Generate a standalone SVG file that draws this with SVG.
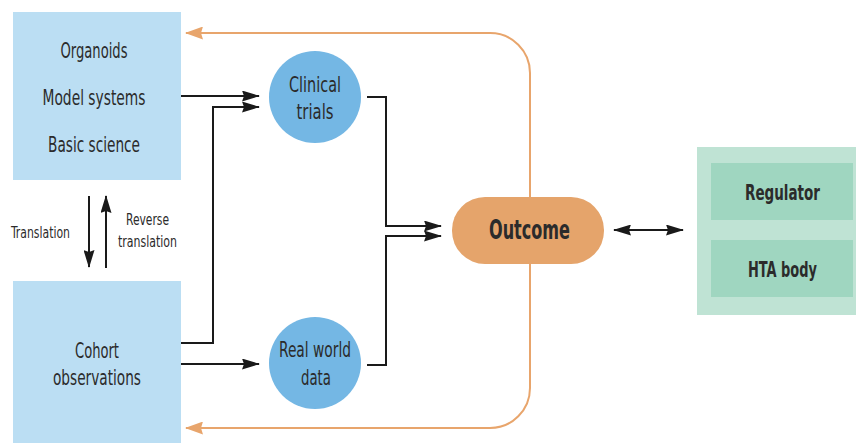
<svg xmlns="http://www.w3.org/2000/svg" width="856" height="443" viewBox="0 0 856 443">
<style>
text{font-family:"DejaVu Sans Condensed","DejaVu Sans",sans-serif;font-stretch:condensed;fill:#2b2b2b;text-anchor:middle;dominant-baseline:central}
.lbl{font-size:21.5px}
.sm{font-size:16px}
.b{font-weight:bold}
.blk{fill:none;stroke:#1a1a1a;stroke-width:2}
.org{fill:none;stroke:#e8a56c;stroke-width:2}
</style>
<defs>
<marker id="ab" viewBox="0 0 18 11" refX="17" refY="5.5" markerWidth="18" markerHeight="11" markerUnits="userSpaceOnUse" orient="auto-start-reverse"><path d="M0,0 L18,5.5 L0,11 L2,5.5 Z" fill="#1a1a1a"/></marker>
<marker id="ao" viewBox="0 0 18 13" refX="17" refY="6.5" markerWidth="18" markerHeight="13" markerUnits="userSpaceOnUse" orient="auto"><path d="M0,0 L18,6.5 L0,13 L2,6.5 Z" fill="#e8a56c"/></marker>
</defs>
<g id="basic">
<rect x="13" y="12" width="168" height="168" fill="#bbdef3"/>
<text class="lbl" x="94" y="50" textLength="67" lengthAdjust="spacingAndGlyphs">Organoids</text>
<text class="lbl" x="94" y="97" textLength="103" lengthAdjust="spacingAndGlyphs">Model systems</text>
<text class="lbl" x="94" y="144" textLength="92" lengthAdjust="spacingAndGlyphs">Basic science</text>
</g>
<g id="cohort">
<rect x="13" y="281" width="168" height="162" fill="#bbdef3"/>
<text class="lbl" x="97" y="350" textLength="44" lengthAdjust="spacingAndGlyphs">Cohort</text>
<text class="lbl" x="97" y="377" textLength="88" lengthAdjust="spacingAndGlyphs">observations</text>
</g>
<g id="clinical">
<circle cx="315" cy="97" r="46" fill="#74b7e4"/>
<text class="lbl" x="315" y="84" textLength="52" lengthAdjust="spacingAndGlyphs">Clinical</text>
<text class="lbl" x="315" y="111" textLength="37" lengthAdjust="spacingAndGlyphs">trials</text>
</g>
<g id="rwd">
<circle cx="315" cy="363" r="46" fill="#74b7e4"/>
<text class="lbl" x="315" y="349" textLength="72" lengthAdjust="spacingAndGlyphs">Real world</text>
<text class="lbl" x="316" y="377" textLength="30" lengthAdjust="spacingAndGlyphs">data</text>
</g>
<g id="outcome">
<rect x="452" y="197" width="152" height="67" rx="33" fill="#e5a46b"/>
<text class="b" style="font-size:26px" x="529.5" y="230" textLength="81" lengthAdjust="spacingAndGlyphs">Outcome</text>
</g>
<g id="decision">
<rect x="697" y="147" width="159" height="168" fill="#bfe3d4"/>
<g id="regulator">
<rect x="711" y="163" width="142" height="57" fill="#9fd6c0"/>
<text class="b" style="font-size:22px" x="782.5" y="192" textLength="75" lengthAdjust="spacingAndGlyphs">Regulator</text>
</g>
<g id="hta">
<rect x="711" y="240" width="142" height="57" fill="#9fd6c0"/>
<text class="b" style="font-size:22px" x="782.5" y="269" textLength="69" lengthAdjust="spacingAndGlyphs">HTA body</text>
</g>
</g>
<g id="translation-labels">
<text class="sm" x="40.5" y="232" textLength="59" lengthAdjust="spacingAndGlyphs">Translation</text>
<text class="sm" x="147.5" y="219" textLength="43" lengthAdjust="spacingAndGlyphs">Reverse</text>
<text class="sm" x="147.5" y="241" textLength="59" lengthAdjust="spacingAndGlyphs">translation</text>
</g>
<g id="connectors">
<path class="blk" d="M181,96 H259" marker-end="url(#ab)"/>
<path class="blk" d="M181,343 H213 V107 H259" marker-end="url(#ab)"/>
<path class="blk" d="M181,364 H259" marker-end="url(#ab)"/>
<path class="blk" d="M367,97 H386 V226 H441" marker-end="url(#ab)"/>
<path class="blk" d="M367,365 H386 V236 H441" marker-end="url(#ab)"/>
<path class="blk" d="M614,230 H683" marker-start="url(#ab)" marker-end="url(#ab)"/>
<path class="blk" d="M89,196 V267" marker-end="url(#ab)"/>
<path class="blk" d="M106,268 V196" marker-end="url(#ab)"/>
<path class="org" d="M530,197 V73 A40,40 0 0 0 490,33 H186" marker-end="url(#ao)"/>
<path class="org" d="M530,264 V388 A40,40 0 0 1 490,428 H186" marker-end="url(#ao)"/>
</g>
</svg>
